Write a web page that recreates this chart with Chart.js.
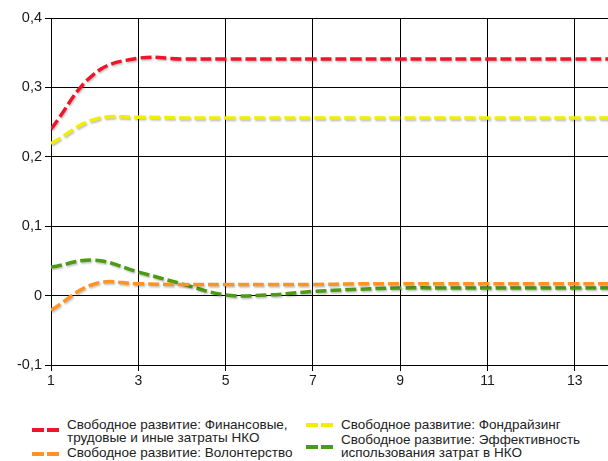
<!DOCTYPE html>
<html>
<head>
<meta charset="utf-8">
<script src="https://cdn.jsdelivr.net/npm/chart.js@4"></script>
<style>
  body { margin: 0; width: 608px; height: 461px; overflow: hidden; background: #fff; position: relative; font-family: "Liberation Sans", Arial, sans-serif; }
  #wrap { position: absolute; left: 0; top: 0; }
  .item { position: absolute; font-size: 13.5px; line-height: 13px; color: #222; white-space: nowrap; }
  .sw { position: absolute; width: 12px; height: 4px; }
</style>
</head>
<body>
<div id="wrap"><canvas id="my-chart" width="680" height="400"></canvas></div>
<div id="legend"></div>
<script>
'use strict';

// **** Data ****

let steps = [1, 2, 3, 4, 5, 6, 7, 8, 9, 10, 11, 12, 13, 14, 15];
let financeCosts = [0.24, 0.32, 0.342, 0.341, 0.341, 0.341, 0.341, 0.341, 0.341, 0.341, 0.341, 0.341, 0.341, 0.341, 0.341];
let volunteering = [-0.021, 0.017, 0.017, 0.016, 0.016, 0.016, 0.016, 0.017, 0.017, 0.017, 0.017, 0.017, 0.017, 0.017, 0.017];
let fundraising = [0.219, 0.254, 0.257, 0.256, 0.256, 0.256, 0.256, 0.256, 0.256, 0.256, 0.256, 0.256, 0.256, 0.256, 0.256];
let efficiency = [0.041, 0.051, 0.034, 0.017, 0.001, 0.001, 0.006, 0.009, 0.011, 0.011, 0.011, 0.011, 0.011, 0.011, 0.011];

let seriesNames = [
  'Свободное развитие: Финансовые, трудовые и иные затраты НКО',
  'Свободное развитие: Волонтерство',
  'Свободное развитие: Фондрайзинг',
  'Свободное развитие: Эффективность использования затрат в НКО'
];
let seriesColors = ['#f01428', '#ff9424', '#f2ee00', '#4d9a14'];

// **** Helpers ****

function makePoints(values) {
  let pts = [];
  for (let i = 0; i < steps.length; i++) {
    pts.push({ x: steps[i], y: values[i] });
  }
  return pts;
}

function makeDataset(idx, values) {
  return {
    label: seriesNames[idx],
    data: makePoints(values),
    borderColor: seriesColors[idx],
    borderWidth: 3.5,
    borderDash: [11, 4],
    pointRadius: 0,
    tension: 0.4,
    fill: false
  };
}

// soft gray shadow under the lines
let shadowPlugin = {
  id: 'lineShadow',
  beforeDatasetsDraw(chart) {
    let c = chart.ctx;
    c.save();
    c.shadowColor = 'rgba(0,0,0,0.25)';
    c.shadowBlur = 2;
    c.shadowOffsetX = 1;
    c.shadowOffsetY = 1.5;
  },
  afterDatasetsDraw(chart) {
    chart.ctx.restore();
  }
};

let ctx = document.getElementById('my-chart').getContext('2d');

new Chart(ctx, {
  type: 'line',
  data: {
    datasets: [
      makeDataset(1, volunteering),
      makeDataset(3, efficiency),
      makeDataset(2, fundraising),
      makeDataset(0, financeCosts)
    ]
  },
  options: {
    responsive: false,
    animation: false,
    layout: { padding: { top: 18, right: 18, bottom: 0, left: 0 } },
    plugins: { legend: { display: false }, tooltip: { enabled: false } },
    scales: {
      x: {
        type: 'linear',
        min: 1,
        max: 15,
        afterFit: function (s) { s.height = 35; },
        border: { color: '#000', width: 1 },
        grid: { color: '#000', lineWidth: 1, tickLength: 6 },
        ticks: { stepSize: 2, color: '#1a1a1a', padding: 2, font: { family: 'Liberation Sans', size: 14 } }
      },
      y: {
        min: -0.1,
        max: 0.4,
        afterFit: function (s) { s.width = 51; },
        border: { color: '#000', width: 1 },
        grid: { color: '#000', lineWidth: 1, tickLength: 6 },
        ticks: {
          stepSize: 0.1,
          color: '#1a1a1a',
          padding: 3,
          font: { family: 'Liberation Sans', size: 14.5 },
          callback: function (v) {
            if (Math.abs(v) < 1e-9) return '0';
            return v.toFixed(1).replace('.', ',');
          }
        }
      }
    }
  },
  plugins: [shadowPlugin]
});

// **** HTML legend ****

let legendItems = [
  { idx: 0, x: 32, y: 418, lines: ['Свободное развитие: Финансовые,', 'трудовые и иные затраты НКО'], swY: 430 },
  { idx: 1, x: 32, y: 446, lines: ['Свободное развитие: Волонтерство'], swY: 454 },
  { idx: 2, x: 306, y: 418, lines: ['Свободное развитие: Фондрайзинг'], swY: 425 },
  { idx: 3, x: 306, y: 433, lines: ['Свободное развитие: Эффективность', 'использования затрат в НКО'], swY: 447 }
];

let legendBox = document.getElementById('legend');
for (let i = 0; i < legendItems.length; i++) {
  let it = legendItems[i];
  let color = seriesColors[it.idx];
  for (let d = 0; d < 2; d++) {
    let sw = document.createElement('div');
    sw.className = 'sw';
    sw.style.left = (it.x + d * 15) + 'px';
    sw.style.top = (it.swY - 2) + 'px';
    sw.style.background = color;
    legendBox.appendChild(sw);
  }
  let txt = document.createElement('div');
  txt.className = 'item';
  txt.style.left = (it.x + 35) + 'px';
  txt.style.top = it.y + 'px';
  txt.innerHTML = it.lines.join('<br>');
  legendBox.appendChild(txt);
}
</script>
</body>
</html>
